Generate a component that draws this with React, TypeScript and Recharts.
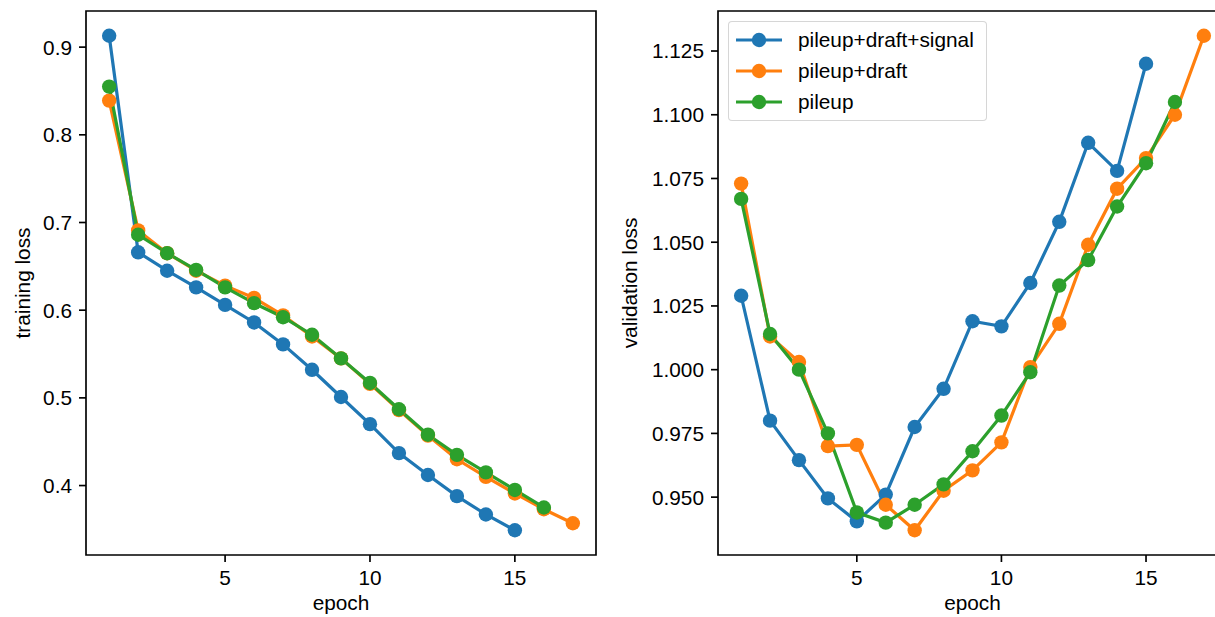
import React from 'react'
import {
  LineChart,
  Line,
  XAxis,
  YAxis,
  ReferenceArea,
  Legend,
} from 'recharts'

const trainSignal = [0.913, 0.666, 0.645, 0.626, 0.606, 0.586, 0.561, 0.532, 0.501, 0.47, 0.437, 0.412, 0.388, 0.367, 0.349]
const trainDraft = [0.839, 0.691, 0.665, 0.645, 0.628, 0.614, 0.594, 0.57, 0.545, 0.516, 0.486, 0.457, 0.43, 0.41, 0.391, 0.373, 0.357]
const trainPileup = [0.855, 0.686, 0.665, 0.646, 0.626, 0.608, 0.592, 0.572, 0.545, 0.517, 0.487, 0.458, 0.435, 0.415, 0.395, 0.375]

const valSignal = [1.029, 0.98, 0.9645, 0.9495, 0.9405, 0.951, 0.9775, 0.9925, 1.019, 1.017, 1.034, 1.058, 1.089, 1.078, 1.12]
const valDraft = [1.073, 1.013, 1.003, 0.97, 0.9705, 0.947, 0.937, 0.9525, 0.9605, 0.9715, 1.001, 1.018, 1.049, 1.071, 1.083, 1.1, 1.131]
const valPileup = [1.067, 1.014, 1.0, 0.975, 0.944, 0.94, 0.947, 0.955, 0.968, 0.982, 0.999, 1.033, 1.043, 1.064, 1.081, 1.105]

const seriesNames = ['pileup+draft+signal', 'pileup+draft', 'pileup']
const colors = ['#1f77b4', '#ff7f0e', '#2ca02c']

const xTicks = [5, 10, 15]
const trainTicks = [0.4, 0.5, 0.6, 0.7, 0.8, 0.9]
const valTicks = [0.95, 0.975, 1.0, 1.025, 1.05, 1.075, 1.1, 1.125]

const FONT = 20.8
const AXIS_W = 1.67
const LINE_W = 3.2
const DOT_R = 7.2

const toPoints = (vals: number[]) => vals.map((v, i) => ({ epoch: i + 1, loss: v }))

// matplotlib style 5% margins
const padded = (vals: number[]): [number, number] => {
  const lo = Math.min(...vals)
  const hi = Math.max(...vals)
  const m = (hi - lo) * 0.05
  return [lo - m, hi + m]
}

const xDomain = padded([1, 17])
const trainDomain = padded([...trainSignal, ...trainDraft, ...trainPileup])
const valDomain = padded([...valSignal, ...valDraft, ...valPileup])

const tickStyle = { fill: '#000', fontSize: FONT }
const tickLineStyle = { stroke: '#000', strokeWidth: AXIS_W }

const yLabel = (text: string, x: number) => (props: any) => {
  const vb = props.viewBox
  const cy = vb.y + vb.height / 2
  return (
    <text
      x={x}
      y={cy}
      transform={`rotate(-90 ${x} ${cy})`}
      textAnchor="middle"
      fontSize={FONT}
      fill="#000"
    >
      {text}
    </text>
  )
}

const xLabel = (props: any) => {
  const vb = props.viewBox
  return (
    <text x={vb.x + vb.width / 2} y={610} textAnchor="middle" fontSize={FONT} fill="#000">
      epoch
    </text>
  )
}

const LegendBox = () => (
  <div
    style={{
      position: 'relative',
      width: 259,
      height: 100,
      border: '1.6px solid rgba(204,204,204,0.8)',
      borderRadius: 4,
      background: 'rgba(255,255,255,0.8)',
      boxSizing: 'border-box',
    }}
  >
    {seriesNames.map((name, i) => (
      <div
        key={name}
        style={{ position: 'absolute', left: 0, top: 8 + i * 30.8, height: 30, width: '100%' }}
      >
        <svg width={60} height={30} style={{ position: 'absolute', left: 6, top: 0 }}>
          <line x1={1} x2={47} y1={10} y2={10} stroke={colors[i]} strokeWidth={LINE_W} />
          <circle cx={24} cy={10} r={DOT_R} fill={colors[i]} />
        </svg>
        <span
          style={{
            position: 'absolute',
            left: 69,
            top: -3,
            fontSize: FONT,
            lineHeight: '26px',
            color: '#000',
            whiteSpace: 'nowrap',
          }}
        >
          {name}
        </span>
      </div>
    ))}
  </div>
)

const renderLines = (sets: number[][]) =>
  sets.map((vals, i) => (
    <Line
      key={seriesNames[i]}
      data={toPoints(vals)}
      dataKey="loss"
      name={seriesNames[i]}
      type="linear"
      stroke={colors[i]}
      strokeWidth={LINE_W}
      dot={{ r: DOT_R, fill: colors[i], stroke: 'none' }}
      activeDot={false}
      isAnimationActive={false}
    />
  ))

export default function App() {
  return (
    <div
      style={{
        position: 'absolute',
        left: 0,
        top: 0,
        width: 1215,
        height: 617,
        overflow: 'hidden',
        background: '#fff',
        fontFamily: '"Liberation Sans", Arial, sans-serif',
      }}
    >
      <div style={{ position: 'absolute', left: 0, top: 0 }}>
        <LineChart width={610} height={617} margin={{ top: 11, right: 14, bottom: 0, left: 0 }}>
          <XAxis
            dataKey="epoch"
            type="number"
            domain={xDomain}
            ticks={xTicks}
            allowDuplicatedCategory={false}
            height={62}
            axisLine={false}
            tick={tickStyle}
            tickLine={tickLineStyle}
            tickSize={7}
            tickMargin={8}
            label={{ content: xLabel }}
          />
          <YAxis
            type="number"
            domain={trainDomain}
            ticks={trainTicks}
            width={86}
            axisLine={false}
            tick={tickStyle}
            tickLine={tickLineStyle}
            tickSize={7}
            tickMargin={7}
            tickFormatter={(v: number) => v.toFixed(1)}
            label={{ content: yLabel('training loss', 30) }}
          />
          <ReferenceArea
            x1={xDomain[0]}
            x2={xDomain[1]}
            y1={trainDomain[0]}
            y2={trainDomain[1]}
            fill="none"
            stroke="#000"
            strokeWidth={AXIS_W}
          />
          {renderLines([trainSignal, trainDraft, trainPileup])}
        </LineChart>
      </div>
      <div style={{ position: 'absolute', left: 610, top: 0 }}>
        <LineChart width={650} height={617} margin={{ top: 11, right: 33, bottom: 0, left: 0 }}>
          <XAxis
            dataKey="epoch"
            type="number"
            domain={xDomain}
            ticks={xTicks}
            allowDuplicatedCategory={false}
            height={62}
            axisLine={false}
            tick={tickStyle}
            tickLine={tickLineStyle}
            tickSize={7}
            tickMargin={8}
            label={{ content: xLabel }}
          />
          <YAxis
            type="number"
            domain={valDomain}
            ticks={valTicks}
            width={108}
            axisLine={false}
            tick={tickStyle}
            tickLine={tickLineStyle}
            tickSize={7}
            tickMargin={7}
            tickFormatter={(v: number) => v.toFixed(3)}
            label={{ content: yLabel('validation loss', 27) }}
          />
          <ReferenceArea
            x1={xDomain[0]}
            x2={xDomain[1]}
            y1={valDomain[0]}
            y2={valDomain[1]}
            fill="none"
            stroke="#000"
            strokeWidth={AXIS_W}
          />
          {renderLines([valSignal, valDraft, valPileup])}
          <Legend
            layout="vertical"
            align="center"
            verticalAlign="middle"
            content={() => <LegendBox />}
            wrapperStyle={{ position: 'absolute', left: 118, top: 21, width: 259, height: 100 }}
          />
        </LineChart>
      </div>
    </div>
  )
}
